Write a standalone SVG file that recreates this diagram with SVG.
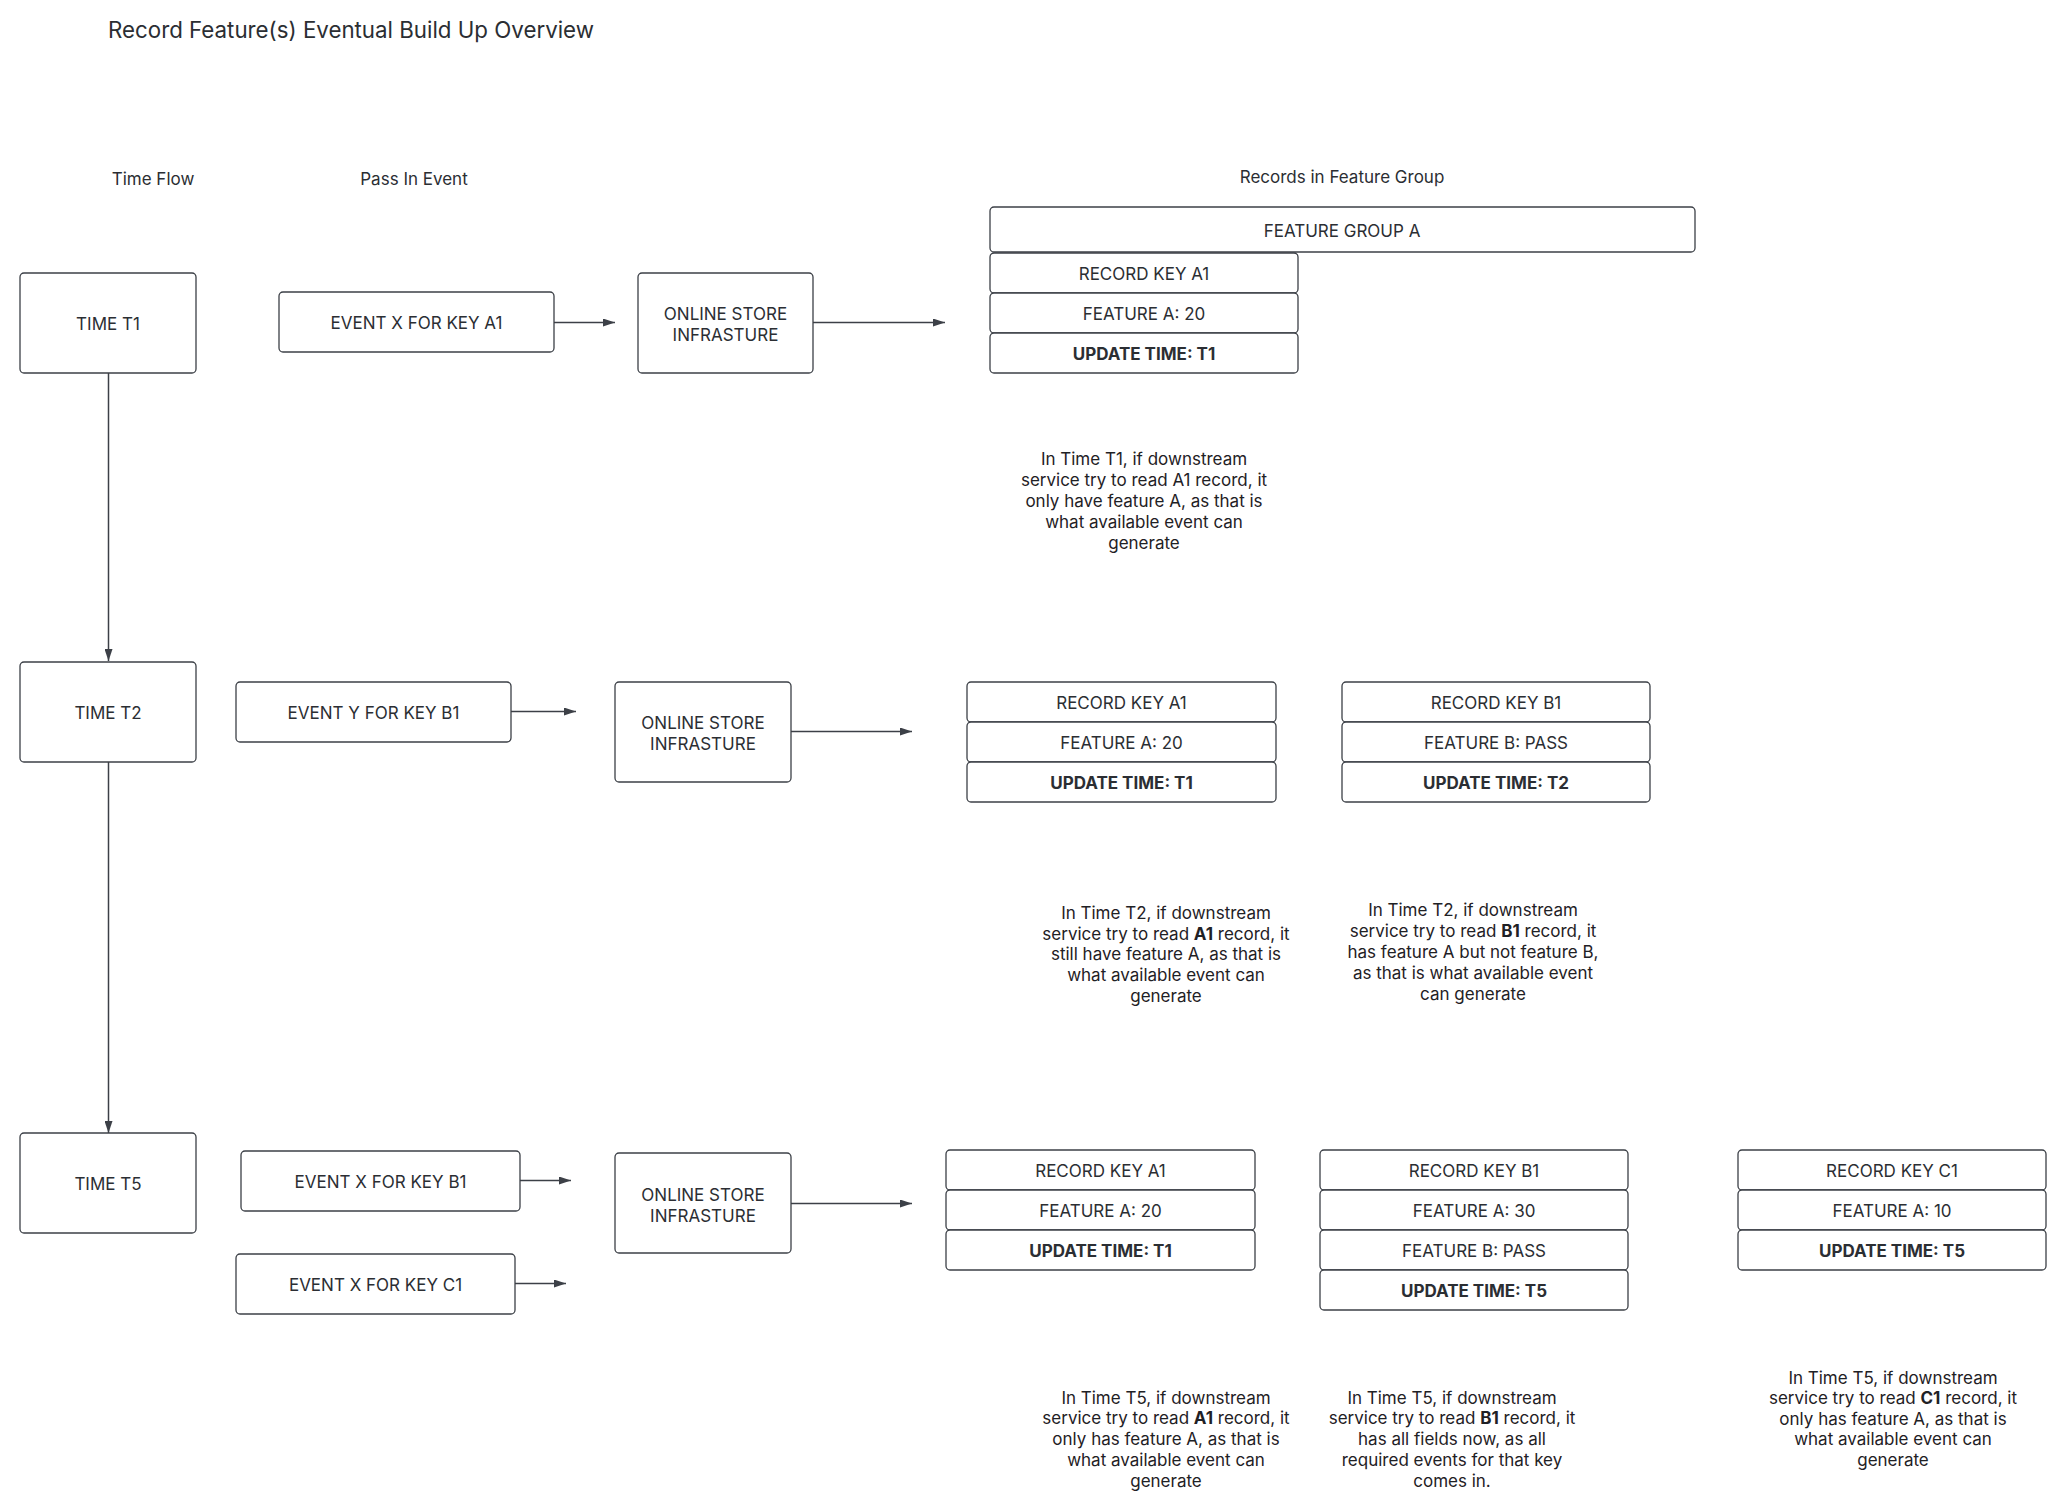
<svg xmlns="http://www.w3.org/2000/svg" width="2047" height="1509" viewBox="0 0 2047 1509">
<defs>
<style>
text{font-family:Inter,"Liberation Sans",sans-serif;fill:#2b2e33;}
.title{font-size:22.3px;}
.head{font-size:17px;}
.lbl{font-size:17px;text-anchor:middle;dominant-baseline:central;}
.b{font-weight:700;}
.note{font-size:17px;text-anchor:middle;dominant-baseline:central;fill:#1f2125;}
.box{fill:#fff;stroke:#3c4047;stroke-width:1.3;}
.conn{stroke:#3c4047;stroke-width:1.5;fill:none;marker-end:url(#ah);}
</style>
<marker id="ah" markerUnits="userSpaceOnUse" markerWidth="12" markerHeight="8" refX="12" refY="4" orient="auto">
<path d="M0,0 L12,4 L0,8 z" fill="#3c4047"/>
</marker>
</defs>
<rect width="2047" height="1509" fill="#fff"/>

<text class="title" x="108" y="37.5">Record Feature(s) Eventual Build Up Overview</text>
<text class="head" x="153" y="184.5" text-anchor="middle">Time Flow</text>
<text class="head" x="414" y="184.5" text-anchor="middle">Pass In Event</text>
<text class="head" x="1342" y="182.5" text-anchor="middle">Records in Feature Group</text>

<g id="connectors">
<line class="conn" x1="108.5" y1="373" x2="108.5" y2="661"/>
<line class="conn" x1="108.5" y1="762" x2="108.5" y2="1133"/>
<line class="conn" x1="554" y1="322.5" x2="615" y2="322.5"/>
<line class="conn" x1="813" y1="322.5" x2="945" y2="322.5"/>
<line class="conn" x1="511" y1="711.5" x2="576" y2="711.5"/>
<line class="conn" x1="791" y1="731.5" x2="912" y2="731.5"/>
<line class="conn" x1="520" y1="1180.5" x2="571" y2="1180.5"/>
<line class="conn" x1="515" y1="1283.5" x2="566" y2="1283.5"/>
<line class="conn" x1="791" y1="1203.5" x2="912" y2="1203.5"/>
</g>

<g id="time-t1"><rect class="box" x="20" y="273" width="176" height="100" rx="4"/><text class="lbl" x="108" y="324">TIME T1</text></g>
<g id="time-t2"><rect class="box" x="20" y="662" width="176" height="100" rx="4"/><text class="lbl" x="108" y="713">TIME T2</text></g>
<g id="time-t5"><rect class="box" x="20" y="1133" width="176" height="100" rx="4"/><text class="lbl" x="108" y="1184">TIME T5</text></g>

<g id="event-x-a1"><rect class="box" x="279" y="292" width="275" height="60" rx="4"/><text class="lbl" x="416.5" y="323">EVENT X FOR KEY A1</text></g>
<g id="event-y-b1"><rect class="box" x="236" y="682" width="275" height="60" rx="4"/><text class="lbl" x="373.5" y="713">EVENT Y FOR KEY B1</text></g>
<g id="event-x-b1"><rect class="box" x="241" y="1151" width="279" height="60" rx="4"/><text class="lbl" x="380.5" y="1182">EVENT X FOR KEY B1</text></g>
<g id="event-x-c1"><rect class="box" x="236" y="1254" width="279" height="60" rx="4"/><text class="lbl" x="375.5" y="1285">EVENT X FOR KEY C1</text></g>

<g id="store-t1"><rect class="box" x="638" y="273" width="175" height="100" rx="4"/><text class="lbl" x="725.5" y="314">ONLINE STORE</text><text class="lbl" x="725.5" y="335">INFRASTURE</text></g>
<g id="store-t2"><rect class="box" x="615" y="682" width="176" height="100" rx="4"/><text class="lbl" x="703" y="723">ONLINE STORE</text><text class="lbl" x="703" y="744">INFRASTURE</text></g>
<g id="store-t5"><rect class="box" x="615" y="1153" width="176" height="100" rx="4"/><text class="lbl" x="703" y="1195">ONLINE STORE</text><text class="lbl" x="703" y="1216">INFRASTURE</text></g>

<g id="feature-group-a"><rect class="box" x="990" y="207" width="705" height="45" rx="4"/><text class="lbl" x="1342" y="230.5">FEATURE GROUP A</text></g>

<g id="t1-record-a1">
<rect class="box" x="990" y="253" width="308" height="40" rx="4"/><text class="lbl" x="1144" y="274">RECORD KEY A1</text>
<rect class="box" x="990" y="293" width="308" height="40" rx="4"/><text class="lbl" x="1144" y="314">FEATURE A: 20</text>
<rect class="box" x="990" y="333" width="308" height="40" rx="4"/><text class="lbl b" x="1144" y="354">UPDATE TIME: T1</text>
</g>

<g id="t2-record-a1">
<rect class="box" x="967" y="682" width="309" height="40" rx="4"/><text class="lbl" x="1121.5" y="703">RECORD KEY A1</text>
<rect class="box" x="967" y="722" width="309" height="40" rx="4"/><text class="lbl" x="1121.5" y="743">FEATURE A: 20</text>
<rect class="box" x="967" y="762" width="309" height="40" rx="4"/><text class="lbl b" x="1121.5" y="783">UPDATE TIME: T1</text>
</g>
<g id="t2-record-b1">
<rect class="box" x="1342" y="682" width="308" height="40" rx="4"/><text class="lbl" x="1496" y="703">RECORD KEY B1</text>
<rect class="box" x="1342" y="722" width="308" height="40" rx="4"/><text class="lbl" x="1496" y="743">FEATURE B: PASS</text>
<rect class="box" x="1342" y="762" width="308" height="40" rx="4"/><text class="lbl b" x="1496" y="783">UPDATE TIME: T2</text>
</g>

<g id="t5-record-a1">
<rect class="box" x="946" y="1150" width="309" height="40" rx="4"/><text class="lbl" x="1100.5" y="1171">RECORD KEY A1</text>
<rect class="box" x="946" y="1190" width="309" height="40" rx="4"/><text class="lbl" x="1100.5" y="1211">FEATURE A: 20</text>
<rect class="box" x="946" y="1230" width="309" height="40" rx="4"/><text class="lbl b" x="1100.5" y="1251">UPDATE TIME: T1</text>
</g>
<g id="t5-record-b1">
<rect class="box" x="1320" y="1150" width="308" height="40" rx="4"/><text class="lbl" x="1474" y="1171">RECORD KEY B1</text>
<rect class="box" x="1320" y="1190" width="308" height="40" rx="4"/><text class="lbl" x="1474" y="1211">FEATURE A: 30</text>
<rect class="box" x="1320" y="1230" width="308" height="40" rx="4"/><text class="lbl" x="1474" y="1251">FEATURE B: PASS</text>
<rect class="box" x="1320" y="1270" width="308" height="40" rx="4"/><text class="lbl b" x="1474" y="1291">UPDATE TIME: T5</text>
</g>
<g id="t5-record-c1">
<rect class="box" x="1738" y="1150" width="308" height="40" rx="4"/><text class="lbl" x="1892" y="1171">RECORD KEY C1</text>
<rect class="box" x="1738" y="1190" width="308" height="40" rx="4"/><text class="lbl" x="1892" y="1211">FEATURE A: 10</text>
<rect class="box" x="1738" y="1230" width="308" height="40" rx="4"/><text class="lbl b" x="1892" y="1251">UPDATE TIME: T5</text>
</g>

<g id="note-t1-a1">
<text class="note" x="1144" y="459">In Time T1, if downstream</text>
<text class="note" x="1144" y="480">service try to read A1 record, it</text>
<text class="note" x="1144" y="501">only have feature A, as that is</text>
<text class="note" x="1144" y="522">what available event can</text>
<text class="note" x="1144" y="543">generate</text>
</g>
<g id="note-t2-a1">
<text class="note" x="1166" y="913">In Time T2, if downstream</text>
<text class="note" x="1166" y="934">service try to read <tspan class="b">A1</tspan> record, it</text>
<text class="note" x="1166" y="954">still have feature A, as that is</text>
<text class="note" x="1166" y="975">what available event can</text>
<text class="note" x="1166" y="996">generate</text>
</g>
<g id="note-t2-b1">
<text class="note" x="1473" y="910">In Time T2, if downstream</text>
<text class="note" x="1473" y="931">service try to read <tspan class="b">B1</tspan> record, it</text>
<text class="note" x="1473" y="952">has feature A but not feature B,</text>
<text class="note" x="1473" y="973">as that is what available event</text>
<text class="note" x="1473" y="994">can generate</text>
</g>
<g id="note-t5-a1">
<text class="note" x="1166" y="1398">In Time T5, if downstream</text>
<text class="note" x="1166" y="1418">service try to read <tspan class="b">A1</tspan> record, it</text>
<text class="note" x="1166" y="1439">only has feature A, as that is</text>
<text class="note" x="1166" y="1460">what available event can</text>
<text class="note" x="1166" y="1481">generate</text>
</g>
<g id="note-t5-b1">
<text class="note" x="1452" y="1398">In Time T5, if downstream</text>
<text class="note" x="1452" y="1418">service try to read <tspan class="b">B1</tspan> record, it</text>
<text class="note" x="1452" y="1439">has all fields now, as all</text>
<text class="note" x="1452" y="1460">required events for that key</text>
<text class="note" x="1452" y="1481">comes in.</text>
</g>
<g id="note-t5-c1">
<text class="note" x="1893" y="1378">In Time T5, if downstream</text>
<text class="note" x="1893" y="1398">service try to read <tspan class="b">C1</tspan> record, it</text>
<text class="note" x="1893" y="1419">only has feature A, as that is</text>
<text class="note" x="1893" y="1439">what available event can</text>
<text class="note" x="1893" y="1460">generate</text>
</g>
</svg>
